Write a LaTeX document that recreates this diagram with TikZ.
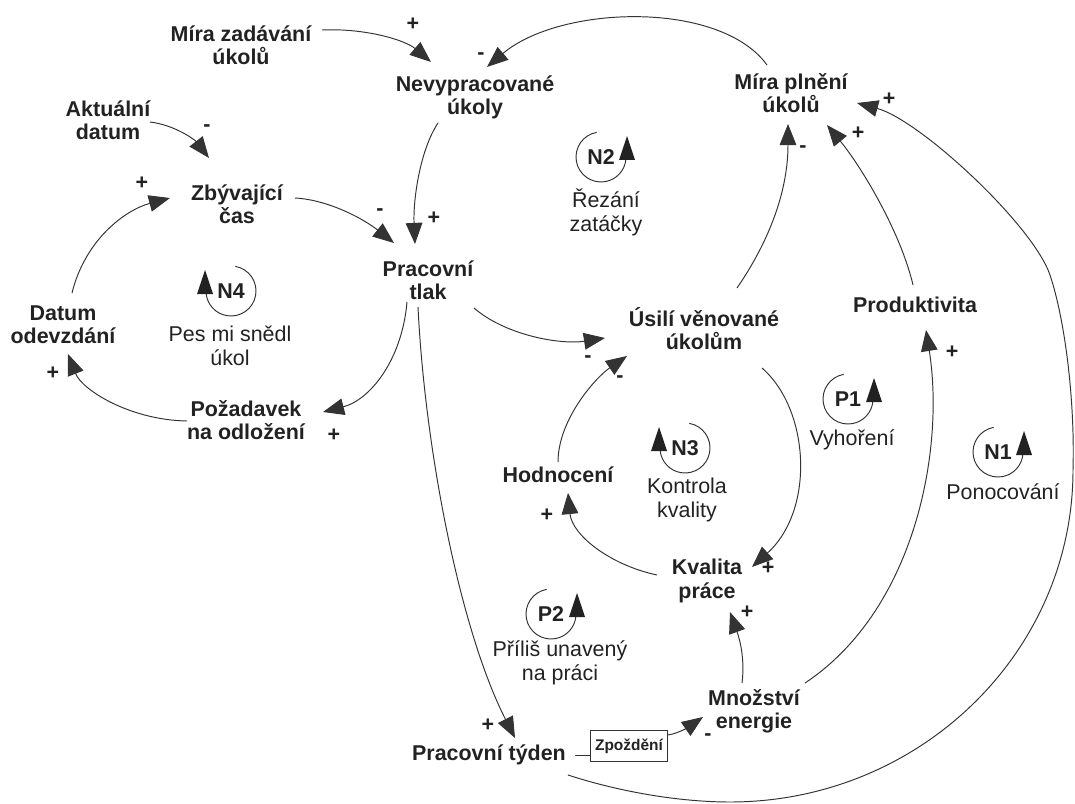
\documentclass[tikz,border=0pt]{standalone}
\usepackage{fontspec}
\setmainfont{Liberation Sans}
\usetikzlibrary{arrows.meta,calc}
\definecolor{ink}{HTML}{222222}
\definecolor{wire}{HTML}{333333}
\tikzset{
  txtbase/.style={font=\fontsize{12.2}{13.2}\selectfont, text=ink, align=center, inner sep=0pt},
  var/.style={txtbase, font=\fontsize{12.2}{13.2}\selectfont\bfseries},
  lbl/.style={txtbase, font=\fontsize{12.2}{13.6}\selectfont},
  sgn/.style={txtbase, font=\fontsize{12.2}{13.2}\selectfont\bfseries},
  conn/.style={draw=wire, line width=0.55pt, -{Triangle[length=12pt,width=9.5pt]}},
  loopline/.style={draw=wire, line width=0.55pt},
  arrowfill/.style={fill=ink},
  delaybox/.style={draw=wire, line width=0.55pt, font=\fontsize{8.8}{10}\selectfont\bfseries, text=ink, minimum width=44pt, minimum height=17.5pt, inner sep=0pt}
}
\newcommand\cldloopR[4]{%
  \node[var] (#1) at (#2,#3) {#4};
  \draw[loopline] ($(#2,#3)+(-100:25)$) arc[start angle=-100, end angle=-355, radius=25];
  \fill[arrowfill] ($(#2,#3)+(18,3)$) -- ($(#2,#3)+(34,3)$) -- ($(#2,#3)+(26,-21)$) -- cycle;
}
\newcommand\cldloopL[4]{%
  \node[var] (#1) at (#2,#3) {#4};
  \draw[loopline] ($(#2,#3)+(-80:25)$) arc[start angle=-80, end angle=175, radius=25];
  \fill[arrowfill] ($(#2,#3)+(-34,3)$) -- ($(#2,#3)+(-18,3)$) -- ($(#2,#3)+(-26,-21)$) -- cycle;
}
\begin{document}
\begin{tikzpicture}[x=0.02cm,y=-0.02cm]
\useasboundingbox (0,0) rectangle (1075,804);

% variables
\node[var] (zad) at (241,45) {Míra zadávání\\úkolů};
\node[var] (nev) at (475,97) {Nevypracované\\úkoly};
\node[var] (plneni) at (791,93) {Míra plnění\\úkolů};
\node[var] (akt) at (108,120) {Aktuální\\datum};
\node[var] (zbyv) at (237,204) {Zbývající\\čas};
\node[var] (tlak) at (428,280) {Pracovní\\tlak};
\node[var] (datum) at (63,325) {Datum\\odevzdání};
\node[var] (poz) at (246,420) {Požadavek\\na odložení};
\node[var] (usili) at (704,329) {Úsilí věnované\\úkolům};
\node[var] (prod) at (915,305) {Produktivita};
\node[var] (hod) at (558,475) {Hodnocení};
\node[var] (kval) at (707,581) {Kvalita\\práce};
\node[var] (mnoz) at (754,711) {Množství\\energie};
\node[var] (tyden) at (489,755) {Pracovní týden};
\node[delaybox] (zpoz) at (629,746) {Zpoždění};

% loops
\cldloopR{n2}{601}{157}{N2}
\node[lbl] (n2l) at (606,212) {Řezání\\zatáčky};
\cldloopL{n4}{231}{291}{N4}
\node[lbl] (n4l) at (230,346) {Pes mi snědl\\úkol};
\cldloopL{n3}{685}{448}{N3}
\node[lbl] (n3l) at (687,500) {Kontrola\\kvality};
\cldloopR{p1}{848}{399}{P1}
\node[lbl] (p1l) at (852,440) {Vyhoření};
\cldloopR{n1}{998}{452}{N1}
\node[lbl] (n1l) at (1003,492) {Ponocování};
\cldloopR{p2}{551}{614}{P2}
\node[lbl] (p2l) at (560,663) {Příliš unavený\\na práci};

% connectors
\draw[conn] ($(zad)+(81,-15)$) .. controls (365,28) and (405,40) .. ($(nev)+(-44,-35)$);
\draw[conn] ($(plneni)+(-24,-28)$) .. controls (720,0) and (560,5) .. ($(nev)+(12,-30)$);
\draw[conn] ($(akt)+(42,2)$) .. controls (175,125) and (195,140) .. ($(zbyv)+(-28,-46)$);
\draw[conn] ($(nev)+(-37,26)$) .. controls (420,150) and (413,200) .. ($(tlak)+(-13,-36)$);
\draw[conn] ($(zbyv)+(58,-6)$) .. controls (330,200) and (365,220) .. ($(tlak)+(-34,-37)$);
\draw[conn] ($(datum)+(9,-32)$) .. controls (85,240) and (125,210) .. ($(zbyv)+(-67,-6)$);
\draw[conn] ($(poz)+(-59,1)$) .. controls (130,420) and (82,390) .. ($(datum)+(5,29)$);
\draw[conn] ($(tlak)+(-21,22)$) .. controls (402,360) and (370,400) .. ($(poz)+(77,-8)$);
\draw[conn] ($(tlak)+(46,28)$) .. controls (505,335) and (560,345) .. ($(usili)+(-99,9)$);
\draw[conn] ($(hod)+(0,-13)$) .. controls (558,420) and (595,378) .. ($(usili)+(-77,27)$);
\draw[conn] ($(usili)+(33,-41)$) .. controls (770,240) and (788,190) .. ($(plneni)+(-3,31)$);
\draw[conn] ($(usili)+(58,39)$) .. controls (810,410) and (815,510) .. ($(kval)+(45,-14)$);
\draw[conn] ($(kval)+(-50,-6)$) .. controls (610,565) and (572,535) .. ($(hod)+(10,18)$);
\draw[conn] ($(prod)+(-2,-20)$) .. controls (900,230) and (860,165) .. ($(plneni)+(36,32)$);
\draw[conn] ($(mnoz)+(51,-28)$) .. controls (915,610) and (945,450) .. ($(prod)+(11,25)$);
\draw[conn] ($(mnoz)+(-12,-28)$) .. controls (745,660) and (740,640) .. ($(kval)+(23,31)$);
\draw[conn] ($(tlak)+(-10,27)$) .. controls (425,450) and (460,630) .. ($(tyden)+(26,-17)$);
\draw[loopline] ($(tyden)+(86,0)$) -- ($(zpoz)+(-39,9)$);
\draw[conn] ($(zpoz)+(39,-11)$) .. controls (680,733) and (690,726) .. ($(mnoz)+(-51,6)$);
\draw[conn] ($(tyden)+(79,20)$) .. controls (620,792) and (680,802) .. (730,802)
   .. controls (919,802) and (1073,653) .. (1073,470)
   .. controls (1075,400) and (1065,320) .. (1050,275)
   .. controls (1033,225) and (920,120) .. ($(plneni)+(66,10)$);

% polarity signs
\node[sgn] (s1) at (413,24) {+};
\node[sgn] (s2) at (481,56) {-};
\node[sgn] (s3) at (207,128) {-};
\node[sgn] (s4) at (434,218) {+};
\node[sgn] (s5) at (380,212) {-};
\node[sgn] (s6) at (142,183) {+};
\node[sgn] (s7) at (53,373) {+};
\node[sgn] (s8) at (334,435) {+};
\node[sgn] (s9) at (588,359) {-};
\node[sgn] (s10) at (620,379) {-};
\node[sgn] (s11) at (803,149) {-};
\node[sgn] (s12) at (768,568) {+};
\node[sgn] (s13) at (547,515) {+};
\node[sgn] (s14) at (858,133) {+};
\node[sgn] (s15) at (952,352) {+};
\node[sgn] (s16) at (747,612) {+};
\node[sgn] (s17) at (488,725) {+};
\node[sgn] (s18) at (708,737) {-};
\node[sgn] (s19) at (889,99) {+};
\end{tikzpicture}
\end{document}
